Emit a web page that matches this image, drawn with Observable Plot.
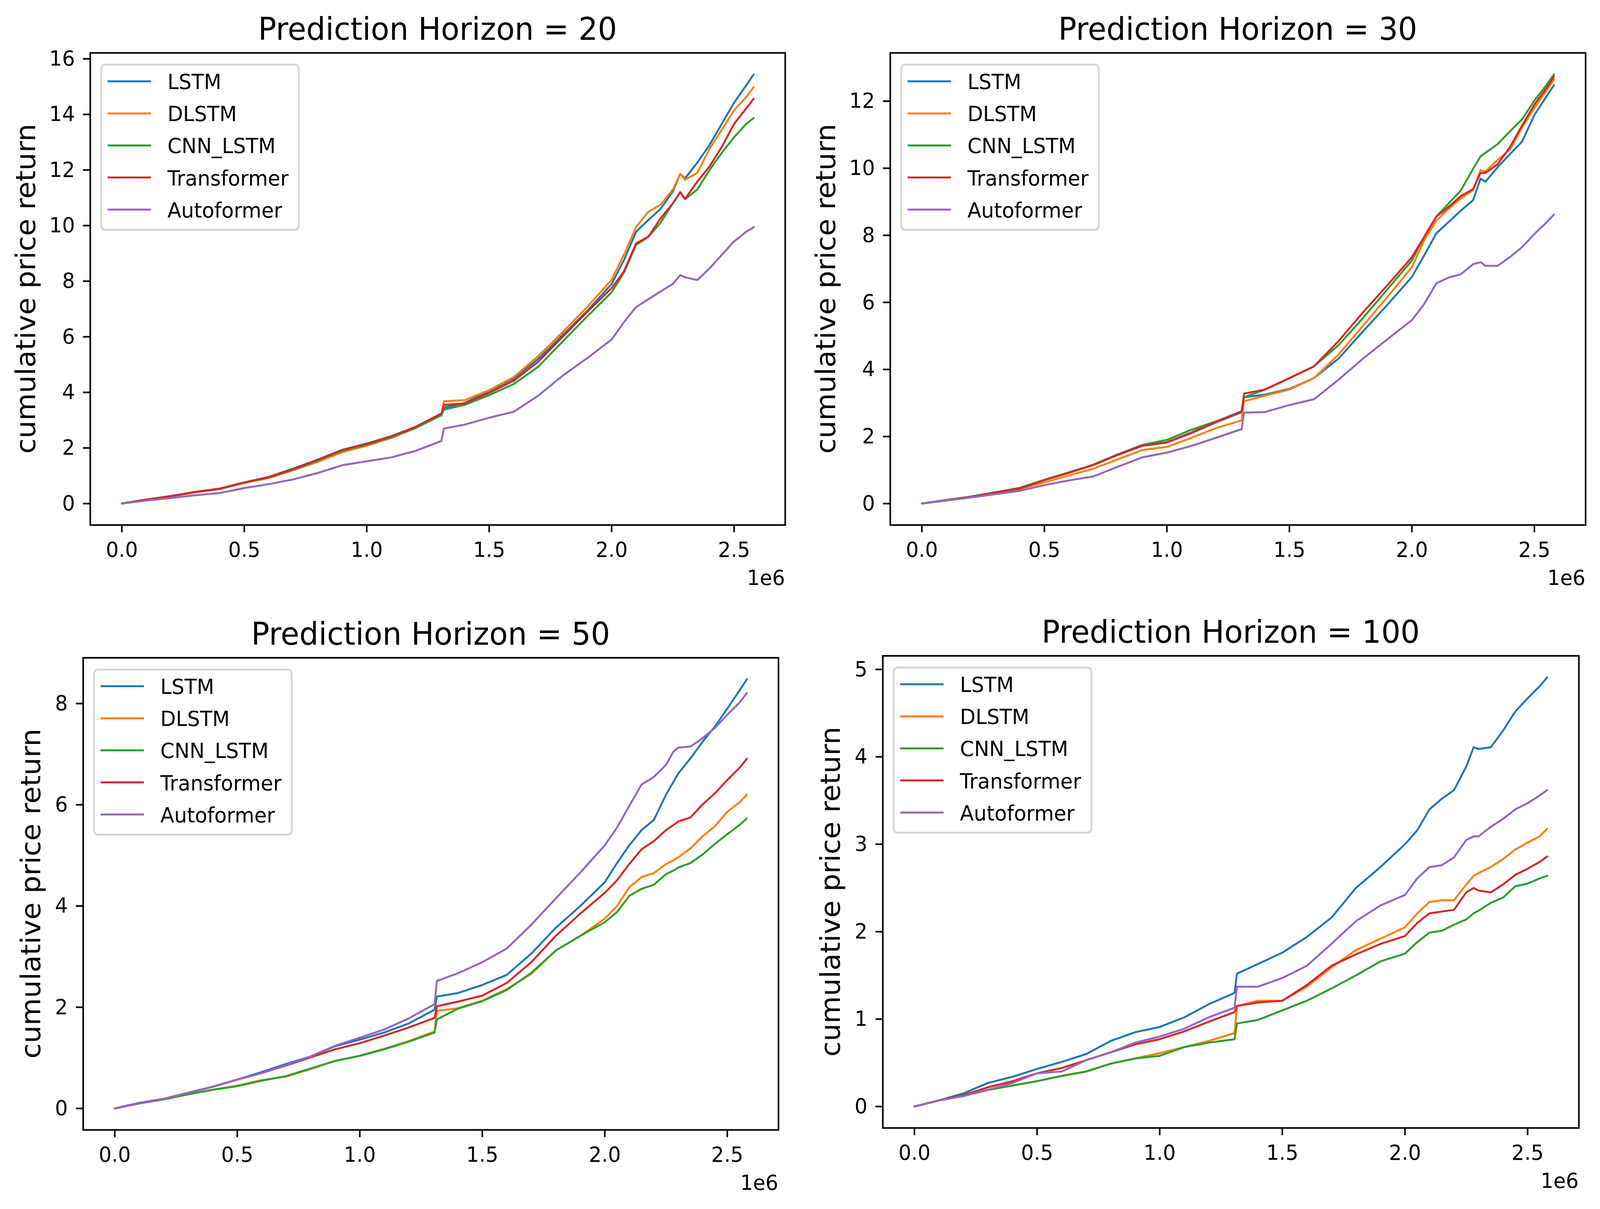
<!DOCTYPE html>
<html>
<head>
<meta charset="utf-8">
<script src="https://cdn.jsdelivr.net/npm/d3@7"></script>
<script src="https://cdn.jsdelivr.net/npm/@observablehq/plot@0.6"></script>
<style>
html, body { margin: 0; padding: 0; background: #ffffff; overflow: hidden; }
#page { position: relative; width: 4280px; height: 3096px; overflow: hidden; background: #ffffff; font-family: "DejaVu Sans", sans-serif; transform-origin: 0 0; }
</style>
</head>
<body>
<div id="page"></div>
<script>
// ---------- data (x in units of 1e6 steps) ----------
const steps = [0, 0.1, 0.2, 0.3, 0.4, 0.5, 0.6, 0.7, 0.8, 0.9, 1.0, 1.1, 1.2, 1.305, 1.315, 1.4, 1.5, 1.6, 1.7, 1.8, 1.9, 2.0, 2.05, 2.1, 2.15, 2.2, 2.25, 2.28, 2.3, 2.35, 2.4, 2.45, 2.5, 2.55, 2.58];

const models = ["LSTM", "DLSTM", "CNN_LSTM", "Transformer", "Autoformer"];
const modelColors = ["#1f77b4", "#ff7f0e", "#2ca02c", "#d62728", "#9467bd"];

// Prediction Horizon = 20
const lstm20  = [0, 0.14, 0.26, 0.41, 0.54, 0.76, 0.96, 1.26, 1.58, 1.93, 2.16, 2.42, 2.76, 3.24, 3.45, 3.62, 4.05, 4.50, 5.20, 6.06, 6.93, 7.90, 8.75, 9.78, 10.20, 10.60, 11.23, 11.86, 11.70, 12.27, 12.90, 13.66, 14.42, 15.05, 15.44];
const dlstm20 = [0, 0.13, 0.25, 0.40, 0.52, 0.74, 0.92, 1.20, 1.50, 1.85, 2.08, 2.36, 2.72, 3.20, 3.68, 3.72, 4.08, 4.55, 5.30, 6.17, 7.07, 8.05, 8.95, 9.95, 10.50, 10.75, 11.30, 11.86, 11.65, 11.90, 12.76, 13.45, 14.15, 14.63, 14.98];
const cnn20   = [0, 0.15, 0.27, 0.42, 0.53, 0.75, 0.94, 1.22, 1.55, 1.90, 2.12, 2.38, 2.72, 3.18, 3.38, 3.55, 3.90, 4.30, 4.92, 5.83, 6.73, 7.60, 8.30, 9.30, 9.60, 10.10, 10.80, 11.20, 10.95, 11.30, 12.00, 12.62, 13.18, 13.66, 13.87];
const trans20 = [0, 0.14, 0.27, 0.42, 0.54, 0.76, 0.95, 1.24, 1.58, 1.93, 2.15, 2.42, 2.76, 3.24, 3.55, 3.60, 3.98, 4.42, 5.10, 6.00, 6.89, 7.75, 8.35, 9.36, 9.60, 10.26, 10.80, 11.20, 10.96, 11.58, 12.13, 12.83, 13.66, 14.22, 14.56];
const auto20  = [0, 0.11, 0.20, 0.30, 0.38, 0.56, 0.70, 0.87, 1.10, 1.38, 1.52, 1.66, 1.90, 2.25, 2.70, 2.84, 3.09, 3.30, 3.88, 4.60, 5.23, 5.90, 6.52, 7.07, 7.35, 7.63, 7.90, 8.22, 8.14, 8.04, 8.46, 8.95, 9.43, 9.78, 9.94];

// Prediction Horizon = 30
const lstm30  = [0, 0.10, 0.20, 0.33, 0.46, 0.70, 0.92, 1.15, 1.45, 1.72, 1.82, 2.10, 2.42, 2.72, 3.17, 3.25, 3.42, 3.74, 4.32, 5.13, 5.93, 6.76, 7.40, 8.06, 8.40, 8.74, 9.05, 9.69, 9.60, 10.03, 10.42, 10.80, 11.59, 12.15, 12.48];
const dlstm30 = [0, 0.10, 0.19, 0.31, 0.43, 0.63, 0.84, 1.04, 1.32, 1.60, 1.69, 1.96, 2.25, 2.48, 3.05, 3.22, 3.40, 3.74, 4.44, 5.30, 6.16, 7.05, 7.85, 8.44, 8.80, 9.10, 9.35, 9.94, 9.90, 10.25, 10.55, 11.22, 11.80, 12.32, 12.65];
const cnn30   = [0, 0.11, 0.21, 0.34, 0.47, 0.71, 0.93, 1.16, 1.47, 1.75, 1.90, 2.20, 2.45, 2.75, 3.17, 3.40, 3.74, 4.09, 4.72, 5.53, 6.39, 7.25, 7.95, 8.56, 8.95, 9.34, 9.99, 10.35, 10.46, 10.72, 11.10, 11.46, 12.02, 12.49, 12.80];
const trans30 = [0, 0.10, 0.20, 0.33, 0.45, 0.70, 0.92, 1.15, 1.46, 1.73, 1.83, 2.12, 2.43, 2.75, 3.28, 3.40, 3.74, 4.09, 4.84, 5.70, 6.51, 7.35, 7.95, 8.56, 8.85, 9.17, 9.38, 9.86, 9.86, 10.12, 10.63, 11.28, 11.90, 12.40, 12.74];
const auto30  = [0, 0.09, 0.18, 0.28, 0.38, 0.55, 0.69, 0.81, 1.10, 1.38, 1.52, 1.72, 1.96, 2.22, 2.71, 2.73, 2.94, 3.11, 3.69, 4.32, 4.90, 5.47, 5.95, 6.57, 6.74, 6.84, 7.14, 7.20, 7.09, 7.09, 7.35, 7.65, 8.04, 8.39, 8.62];

// Prediction Horizon = 50
const lstm50  = [0, 0.11, 0.19, 0.31, 0.43, 0.57, 0.72, 0.88, 1.03, 1.23, 1.36, 1.50, 1.68, 1.95, 2.21, 2.28, 2.44, 2.64, 3.06, 3.57, 4.00, 4.47, 4.85, 5.20, 5.50, 5.70, 6.20, 6.45, 6.62, 6.92, 7.25, 7.55, 7.90, 8.26, 8.48];
const dlstm50 = [0, 0.10, 0.18, 0.28, 0.37, 0.45, 0.56, 0.63, 0.78, 0.94, 1.04, 1.18, 1.33, 1.52, 1.93, 1.98, 2.13, 2.36, 2.66, 3.12, 3.41, 3.75, 4.00, 4.37, 4.57, 4.65, 4.83, 4.90, 4.96, 5.14, 5.38, 5.58, 5.86, 6.05, 6.20];
const cnn50   = [0, 0.10, 0.18, 0.28, 0.37, 0.44, 0.55, 0.64, 0.79, 0.94, 1.04, 1.17, 1.32, 1.50, 1.76, 1.97, 2.12, 2.34, 2.68, 3.12, 3.41, 3.68, 3.88, 4.20, 4.34, 4.42, 4.63, 4.70, 4.76, 4.85, 5.02, 5.23, 5.42, 5.60, 5.73];
const trans50 = [0, 0.11, 0.19, 0.31, 0.43, 0.57, 0.70, 0.85, 1.01, 1.17, 1.29, 1.44, 1.60, 1.79, 2.02, 2.11, 2.23, 2.48, 2.89, 3.41, 3.85, 4.26, 4.51, 4.83, 5.12, 5.28, 5.50, 5.60, 5.67, 5.75, 6.01, 6.23, 6.49, 6.73, 6.91];
const auto50  = [0, 0.11, 0.19, 0.31, 0.43, 0.57, 0.70, 0.86, 1.03, 1.24, 1.40, 1.56, 1.78, 2.06, 2.52, 2.67, 2.89, 3.16, 3.63, 4.15, 4.66, 5.20, 5.55, 5.98, 6.40, 6.55, 6.79, 7.05, 7.13, 7.15, 7.32, 7.52, 7.78, 8.02, 8.21];

// Prediction Horizon = 100
const lstm100  = [0, 0.07, 0.15, 0.27, 0.34, 0.43, 0.51, 0.60, 0.75, 0.85, 0.91, 1.02, 1.17, 1.30, 1.52, 1.63, 1.76, 1.94, 2.16, 2.50, 2.74, 3.00, 3.16, 3.40, 3.52, 3.62, 3.89, 4.11, 4.09, 4.11, 4.30, 4.52, 4.67, 4.81, 4.91];
const dlstm100 = [0, 0.07, 0.12, 0.19, 0.24, 0.29, 0.35, 0.40, 0.49, 0.55, 0.61, 0.68, 0.75, 0.84, 1.15, 1.21, 1.21, 1.37, 1.59, 1.79, 1.92, 2.05, 2.21, 2.34, 2.36, 2.36, 2.54, 2.64, 2.67, 2.74, 2.83, 2.94, 3.02, 3.09, 3.18];
const cnn100   = [0, 0.07, 0.12, 0.19, 0.24, 0.29, 0.35, 0.40, 0.49, 0.55, 0.58, 0.68, 0.73, 0.77, 0.95, 0.99, 1.10, 1.21, 1.35, 1.50, 1.66, 1.75, 1.88, 1.99, 2.01, 2.08, 2.14, 2.21, 2.24, 2.33, 2.39, 2.52, 2.55, 2.61, 2.64];
const trans100 = [0, 0.07, 0.13, 0.22, 0.29, 0.38, 0.44, 0.53, 0.62, 0.71, 0.77, 0.86, 0.97, 1.08, 1.15, 1.19, 1.21, 1.39, 1.61, 1.74, 1.86, 1.95, 2.10, 2.21, 2.23, 2.25, 2.45, 2.50, 2.47, 2.45, 2.54, 2.65, 2.72, 2.80, 2.86];
const auto100  = [0, 0.07, 0.12, 0.19, 0.27, 0.38, 0.40, 0.53, 0.62, 0.73, 0.80, 0.89, 1.02, 1.13, 1.37, 1.37, 1.47, 1.61, 1.86, 2.12, 2.30, 2.42, 2.61, 2.74, 2.76, 2.85, 3.05, 3.09, 3.09, 3.20, 3.29, 3.40, 3.47, 3.56, 3.62];

const xTicks = [0, 0.5, 1.0, 1.5, 2.0, 2.5];
const yTicks20 = [0, 2, 4, 6, 8, 10, 12, 14, 16];
const yTicks30 = [0, 2, 4, 6, 8, 10, 12];
const yTicks50 = [0, 2, 4, 6, 8];
const yTicks100 = [0, 1, 2, 3, 4, 5];
const horizons = [20, 30, 50, 100];

// ---------- layout ----------
const PAGE_W = 4280, PAGE_H = 3096;
const panels = [
  { h: horizons[0], series: [lstm20, dlstm20, cnn20, trans20, auto20], yTicks: yTicks20, frame: [241, 135, 2100, 1344], labelGap: 147 },
  { h: horizons[1], series: [lstm30, dlstm30, cnn30, trans30, auto30], yTicks: yTicks30, frame: [2381, 135, 4241, 1344], labelGap: 147 },
  { h: horizons[2], series: [lstm50, dlstm50, cnn50, trans50, auto50], yTicks: yTicks50, frame: [222, 1684, 2082, 2893], labelGap: 114 },
  { h: horizons[3], series: [lstm100, dlstm100, cnn100, trans100, auto100], yTicks: yTicks100, frame: [2361, 1679, 4223, 2888], labelGap: 114 }
];

const page = document.getElementById("page");
const FONT = "DejaVu Sans";
const mL = 140, mR = 30, mT = 30, mB = 130;

panels.forEach(p => {
  const [L, T, R, B] = p.frame;
  const rows = [];
  p.series.forEach((vals, si) => vals.forEach((v, i) => rows.push({ step: steps[i], ret: v, model: models[si] })));
  const ymin = d3.min(rows, d => d.ret), ymax = d3.max(rows, d => d.ret);
  const ypad = (ymax - ymin) * 0.05;
  const xmin = d3.min(steps), xmax = d3.max(steps);
  const xpad = (xmax - xmin) * 0.05;

  const chart = Plot.plot({
    width: (R - L) + mL + mR,
    height: (B - T) + mT + mB,
    marginLeft: mL, marginRight: mR, marginTop: mT, marginBottom: mB,
    style: { fontFamily: FONT, fontSize: "54px", background: "transparent", overflow: "visible", color: "black" },
    x: { domain: [xmin - xpad, xmax + xpad] },
    y: { domain: [ymin - ypad, ymax + ypad] },
    color: { domain: models, range: modelColors },
    marks: [
      Plot.line(rows, { x: "step", y: "ret", z: "model", stroke: "model", strokeWidth: 5, strokeLinejoin: "round" }),
      Plot.frame({ stroke: "black", strokeWidth: 4.2 }),
      Plot.axisX({ ticks: xTicks, tickFormat: d3.format(".1f"), tickSize: 19, tickPadding: 24, strokeWidth: 4.2, fontSize: 54, label: null }),
      Plot.axisY({ ticks: p.yTicks, tickFormat: d3.format("d"), tickSize: 19, tickPadding: 22, strokeWidth: 4.2, fontSize: 54, label: null })
    ]
  });
  chart.style.position = "absolute";
  chart.style.left = (L - mL) + "px";
  chart.style.top = (T - mT) + "px";
  page.appendChild(chart);
});

// ---------- overlay text: titles, y labels, offset text, legends ----------
const overlay = d3.select(page).append("svg")
  .attr("width", PAGE_W).attr("height", PAGE_H)
  .style("position", "absolute").style("left", "0px").style("top", "0px")
  .style("font-family", FONT);

panels.forEach(p => {
  const [L, T, R, B] = p.frame;
  overlay.append("text")
    .attr("x", (L + R) / 2).attr("y", T - 33)
    .attr("text-anchor", "middle").attr("font-size", 81).attr("fill", "black")
    .text("Prediction Horizon = " + p.h);
  overlay.append("text")
    .attr("transform", `translate(${L - p.labelGap},${(T + B) / 2}) rotate(-90)`)
    .attr("text-anchor", "middle").attr("font-size", 72).attr("fill", "black")
    .text("cumulative price return");
  overlay.append("text")
    .attr("x", R).attr("y", B + 154)
    .attr("text-anchor", "end").attr("font-size", 54).attr("fill", "black")
    .text("1e6");

  const g = overlay.append("g");
  g.append("rect")
    .attr("x", L + 29.5).attr("y", T + 30.5).attr("width", 529).attr("height", 423)
    .attr("rx", 11).attr("ry", 11)
    .attr("fill", "white").attr("fill-opacity", 0.8)
    .attr("stroke", "#d6d6d6").attr("stroke-width", 5);
  models.forEach((m, i) => {
    const yy = T + 73.3 + i * 82.1;
    g.append("line")
      .attr("x1", L + 47).attr("x2", L + 163).attr("y1", yy).attr("y2", yy)
      .attr("stroke", modelColors[i]).attr("stroke-width", 5);
    g.append("text")
      .attr("x", L + 207).attr("y", yy + 20)
      .attr("font-size", 54).attr("fill", "black")
      .text(m);
  });
});

// ---------- fit the 4280x3096 drawing into the actual viewport ----------
function fitPage() {
  const vw = window.innerWidth, vh = window.innerHeight;
  if (vw > 0 && vh > 0) {
    const sx = vw / PAGE_W, sy = vh / PAGE_H;
    page.style.transform = (Math.abs(sx - 1) > 0.002 || Math.abs(sy - 1) > 0.002) ? `scale(${sx}, ${sy})` : "none";
  }
}
fitPage();
window.addEventListener("resize", fitPage);
</script>
</body>
</html>
